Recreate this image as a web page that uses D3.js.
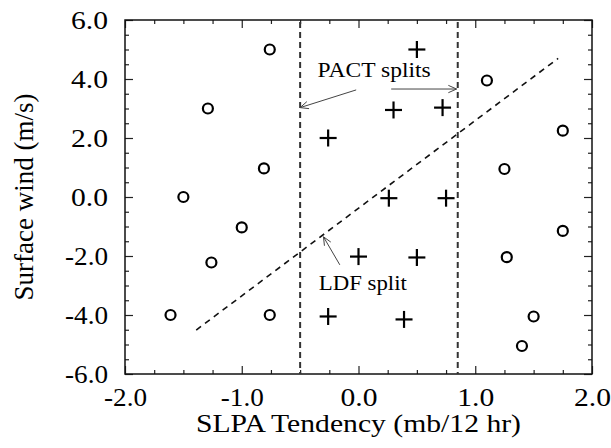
<!DOCTYPE html>
<html>
<head>
<meta charset="utf-8">
<script src="https://cdn.jsdelivr.net/npm/d3@7"></script>
<style>
    body { margin: 0; background: #fff; }
</style>
</head>
<body>
<div id="chart"></div>
<script>
(function () {
    'use strict';

    // circles: cases outside the PACT window
    var circleX = [-1.61, -0.76, -1.29, -0.81, -1.5, -1.0, -1.26, -0.76, 1.1, 1.75, 1.25, 1.75, 1.27, 1.5, 1.4];
    var circleY = [-4.0, 5.0, 3.0, 0.97, 0.0, -1.03, -2.22, -4.0, 3.95, 2.25, 0.95, -1.15, -2.04, -4.05, -5.05];
    // pluses: cases inside
    var plusX = [0.5, -0.26, 0.3, 0.72, 0.26, 0.75, 0.0, 0.5, -0.26, 0.39];
    var plusY = [5.0, 2.0, 2.95, 3.03, -0.04, -0.04, -2.02, -2.05, -4.05, -4.15];

    var pactSplits = [-0.5, 0.85];
    var ldfX = [-1.39, 1.71];
    var ldfY = [-4.51, 4.7];

    var xMajor = [-2, -1, 0, 1, 2];
    var xMinor = [-1.75, -1.5, -1.25, -0.75, -0.5, -0.25, 0.25, 0.5, 0.75, 1.25, 1.5, 1.75];
    var yMajor = [-6, -4, -2, 0, 2, 4, 6];
    var yMinor = [-5.5, -5, -4.5, -3.5, -3, -2.5, -1.5, -1, -0.5, 0.5, 1, 1.5, 2.5, 3, 3.5, 4.5, 5, 5.5];

    var xTitle = "SLPA Tendency (mb/12 hr)";
    var yTitle = "Surface wind (m/s)";

    // annotation texts and arrows, in data units
    var noteText = ["PACT splits", "LDF split"];
    var noteX = [-0.35, -0.34];
    var noteY = [4.07, -3.15];
    var arrowFromX = [-0.02, 0.28, -0.16];
    var arrowFromY = [3.63, 3.66, -2.3];
    var arrowToX = [-0.5, 0.84, -0.3];
    var arrowToY = [3.03, 3.66, -1.35];

    var W = 611, H = 448;
    var margin = {top: 20, right: 19, bottom: 74, left: 125};
    var serif = "Liberation Serif";

    var svg = d3.select("#chart").append("svg")
        .attr("width", W)
        .attr("height", H);

    var x = d3.scaleLinear().domain([-2, 2]).range([margin.left, W - margin.right]);
    var y = d3.scaleLinear().domain([-6, 6]).range([H - margin.bottom, margin.top]);

    var fmt = function (d) { return d3.format(".1f")(d).replace("\u2212", "-"); };

    function tickAxis(axis, vals, size, labels) {
        return axis.tickValues(vals).tickSize(size).tickFormat(labels ? fmt : "");
    }

    var bottom = H - margin.bottom, top = margin.top;
    var left = margin.left, right = W - margin.right;

    // minor ticks, all four sides
    svg.append("g").attr("transform", "translate(0," + bottom + ")")
        .call(tickAxis(d3.axisBottom(x), xMinor, -4, false));
    svg.append("g").attr("transform", "translate(0," + top + ")")
        .call(tickAxis(d3.axisTop(x), xMinor, -4, false));
    svg.append("g").attr("transform", "translate(" + left + ",0)")
        .call(tickAxis(d3.axisLeft(y), yMinor, -4, false));
    svg.append("g").attr("transform", "translate(" + right + ",0)")
        .call(tickAxis(d3.axisRight(y), yMinor, -4, false));

    // major ticks
    var xAx = svg.append("g").attr("class", "x-axis")
        .attr("transform", "translate(0," + bottom + ")")
        .call(tickAxis(d3.axisBottom(x), xMajor, -8, true).tickPadding(14));
    svg.append("g").attr("transform", "translate(0," + top + ")")
        .call(tickAxis(d3.axisTop(x), xMajor, -8, false));
    var yAx = svg.append("g").attr("class", "y-axis")
        .attr("transform", "translate(" + left + ",0)")
        .call(tickAxis(d3.axisLeft(y), yMajor, -8, true).tickPadding(17));
    svg.append("g").attr("transform", "translate(" + right + ",0)")
        .call(tickAxis(d3.axisRight(y), yMajor, -8, false));

    svg.selectAll(".domain").remove();
    svg.selectAll("g").attr("font-family", serif).attr("font-size", 25);
    svg.selectAll(".tick line").attr("stroke", "#222").attr("stroke-width", 1.2);
    svg.selectAll(".tick text")
        .attr("font-family", serif)
        .attr("font-size", 25)
        .attr("fill", "#000");
    xAx.selectAll(".tick text").attr("textLength", function (d) { return d < 0 ? 43 : 37; })
        .attr("lengthAdjust", "spacingAndGlyphs");
    yAx.selectAll(".tick text").attr("textLength", function (d) { return d < 0 ? 43 : 37; })
        .attr("lengthAdjust", "spacingAndGlyphs");

    // frame
    svg.append("rect")
        .attr("x", left).attr("y", top)
        .attr("width", right - left).attr("height", bottom - top)
        .attr("fill", "none")
        .attr("stroke", "#111")
        .attr("stroke-width", 1.5);

    // PACT split lines
    svg.selectAll("line.pact")
        .data(pactSplits)
        .enter().append("line")
        .attr("class", "pact")
        .attr("x1", function (d) { return x(d); })
        .attr("x2", function (d) { return x(d); })
        .attr("y1", y(6) + 2)
        .attr("y2", y(-6))
        .attr("stroke", "#333")
        .attr("stroke-width", 2)
        .attr("stroke-dasharray", "6,4");

    // LDF line
    svg.append("line")
        .attr("x1", x(ldfX[0])).attr("y1", y(ldfY[0]))
        .attr("x2", x(ldfX[1])).attr("y2", y(ldfY[1]))
        .attr("stroke", "#111")
        .attr("stroke-width", 1.6)
        .attr("stroke-dasharray", "6,5");

    // circles
    svg.selectAll("circle.pt")
        .data(circleX)
        .enter().append("circle")
        .attr("class", "pt")
        .attr("cx", function (d) { return x(d); })
        .attr("cy", function (d, i) { return y(circleY[i]); })
        .attr("r", 5)
        .attr("fill", "none")
        .attr("stroke", "#000")
        .attr("stroke-width", 2.2);

    // pluses
    var plus = svg.selectAll("g.plus")
        .data(plusX)
        .enter().append("g")
        .attr("class", "plus")
        .attr("transform", function (d, i) {
            return "translate(" + x(d) + "," + y(plusY[i]) + ")";
        });
    plus.append("line").attr("x1", -8.5).attr("x2", 8.5).attr("y1", 0).attr("y2", 0);
    plus.append("line").attr("x1", 0).attr("x2", 0).attr("y1", -8.5).attr("y2", 8.5);
    plus.selectAll("line").attr("stroke", "#000").attr("stroke-width", 2.2);

    // annotation arrows
    var arrows = svg.selectAll("g.arrow")
        .data(arrowFromX)
        .enter().append("g")
        .attr("class", "arrow");
    arrows.each(function (d, i) {
        var g = d3.select(this);
        var x1 = x(d), y1 = y(arrowFromY[i]);
        var x2 = x(arrowToX[i]), y2 = y(arrowToY[i]);
        var ang = Math.atan2(y2 - y1, x2 - x1);
        var len = 9, spread = 0.42;
        g.append("line")
            .attr("x1", x1).attr("y1", y1).attr("x2", x2).attr("y2", y2);
        g.append("polyline")
            .attr("points", [
                [x2 - len * Math.cos(ang - spread), y2 - len * Math.sin(ang - spread)],
                [x2, y2],
                [x2 - len * Math.cos(ang + spread), y2 - len * Math.sin(ang + spread)]
            ].join(" "))
            .attr("fill", "none");
        g.selectAll("line, polyline").attr("stroke", "#444").attr("stroke-width", 1);
    });

    // annotation text
    svg.selectAll("text.note")
        .data(noteText)
        .enter().append("text")
        .attr("class", "note")
        .attr("x", function (d, i) { return x(noteX[i]); })
        .attr("y", function (d, i) { return y(noteY[i]); })
        .attr("font-family", serif)
        .attr("font-size", 22)
        .attr("textLength", function (d, i) { return i === 0 ? 113 : 88; })
        .attr("lengthAdjust", "spacingAndGlyphs")
        .text(function (d) { return d; });

    // axis titles
    svg.append("text")
        .attr("x", (left + right) / 2)
        .attr("y", 432)
        .attr("text-anchor", "middle")
        .attr("font-family", serif)
        .attr("font-size", 26)
        .attr("textLength", 325)
        .attr("lengthAdjust", "spacingAndGlyphs")
        .text(xTitle);

    svg.append("text")
        .attr("transform", "translate(33," + y(0) + ") rotate(-90)")
        .attr("text-anchor", "middle")
        .attr("font-family", serif)
        .attr("font-size", 27)
        .text(yTitle);
})();
</script>
</body>
</html>
